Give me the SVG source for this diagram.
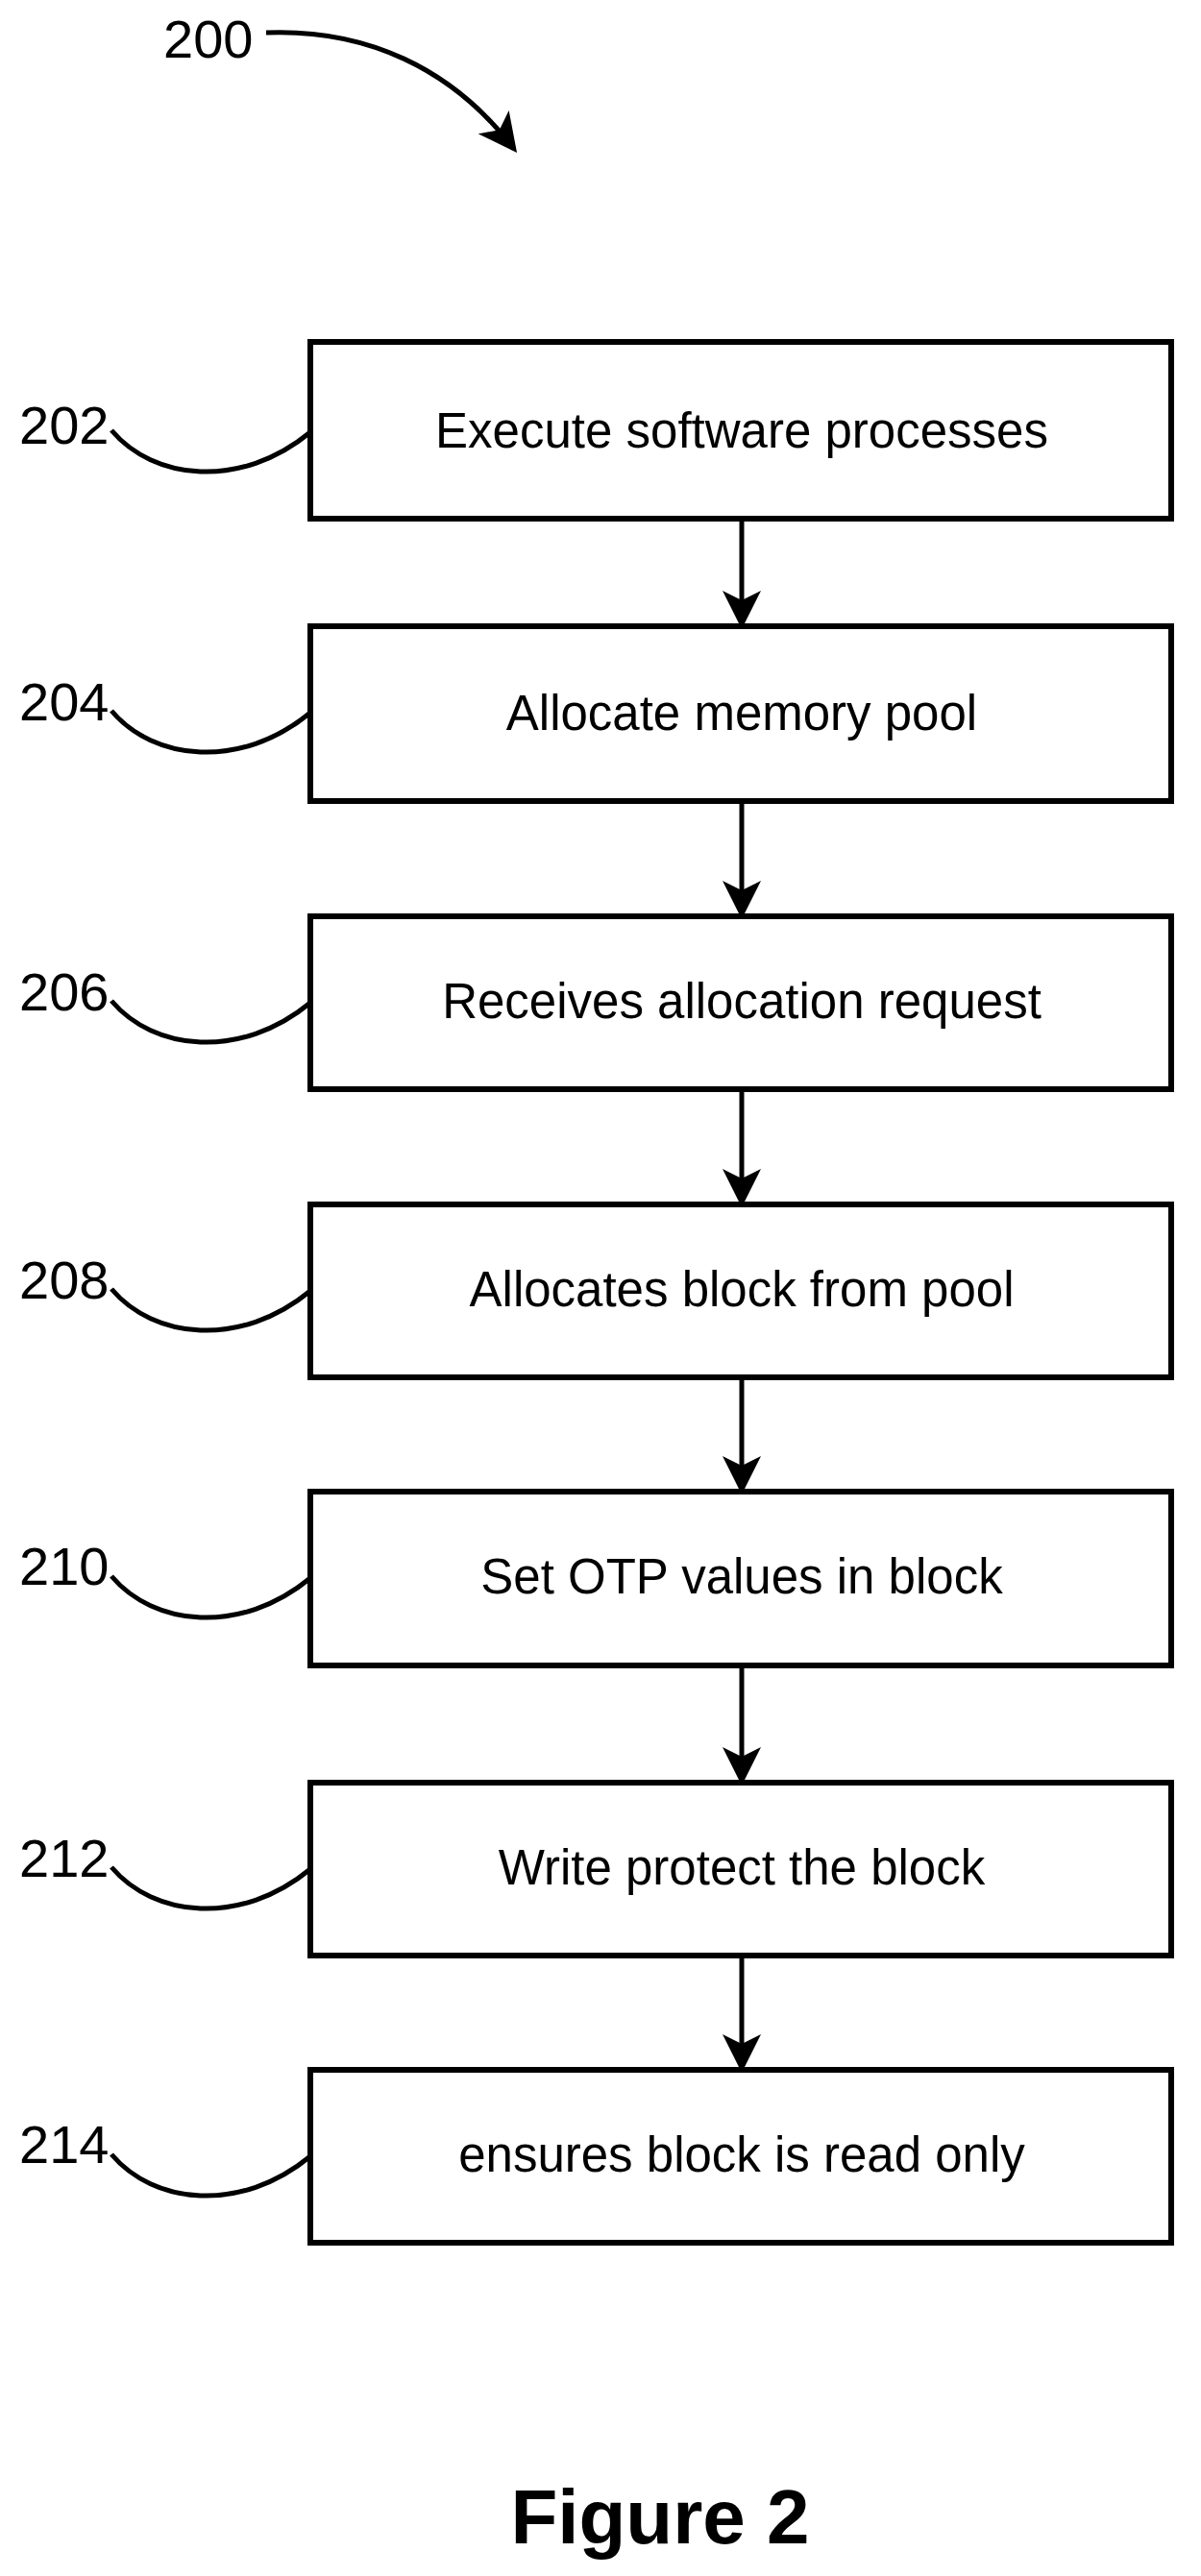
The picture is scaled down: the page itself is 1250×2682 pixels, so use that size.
<svg xmlns="http://www.w3.org/2000/svg" width="1250" height="2682" viewBox="0 0 1250 2682">
<style>
.box{fill:#fff;stroke:#000;stroke-width:6}
.t{font-family:"Liberation Sans",Arial,sans-serif;font-size:51px;text-anchor:middle;fill:#000}
.n{font-family:"Liberation Sans",Arial,sans-serif;font-size:56px;fill:#000}
.c{fill:none;stroke:#000;stroke-width:5}
.a{fill:none;stroke:#000;stroke-width:5;marker-end:url(#ah)}
</style>
<defs>
<marker id="ah" markerWidth="8" markerHeight="8" refX="7" refY="4" orient="auto" markerUnits="strokeWidth">
<path d="M0,0 L8,4 L0,8 L2,4 Z" fill="#000"/>
</marker>
</defs>
<rect width="1250" height="2682" fill="#fff"/>
<g id="label200"><text class="n" x="170" y="60">200</text><path class="a" d="M277,34 C380,30 470,70 535,155"/></g>
<g id="n202"><rect class="box" x="323" y="356" width="896" height="184"/><text class="t" x="772" y="466">Execute software processes</text><text class="n" x="20" y="462">202</text><path class="c" d="M116,448 C160,500 250,510 323,450"/></g>
<g id="n204"><rect class="box" x="323" y="652" width="896" height="182"/><text class="t" x="772" y="760">Allocate memory pool</text><text class="n" x="20" y="750">204</text><path class="c" d="M116,740 C160,792 250,802 323,742"/></g>
<g id="n206"><rect class="box" x="323" y="954" width="896" height="180"/><text class="t" x="772" y="1060">Receives allocation request</text><text class="n" x="20" y="1052">206</text><path class="c" d="M116,1042 C160,1094 250,1104 323,1044"/></g>
<g id="n208"><rect class="box" x="323" y="1254" width="896" height="180"/><text class="t" x="772" y="1360">Allocates block from pool</text><text class="n" x="20" y="1352">208</text><path class="c" d="M116,1342 C160,1394 250,1404 323,1344"/></g>
<g id="n210"><rect class="box" x="323" y="1553" width="896" height="181"/><text class="t" x="772" y="1659">Set OTP values in block</text><text class="n" x="20" y="1650">210</text><path class="c" d="M116,1641 C160,1693 250,1703 323,1643"/></g>
<g id="n212"><rect class="box" x="323" y="1856" width="896" height="180"/><text class="t" x="772" y="1962">Write protect the block</text><text class="n" x="20" y="1954">212</text><path class="c" d="M116,1944 C160,1996 250,2006 323,1946"/></g>
<g id="n214"><rect class="box" x="323" y="2155" width="896" height="180"/><text class="t" x="772" y="2261">ensures block is read only</text><text class="n" x="20" y="2252">214</text><path class="c" d="M116,2243 C160,2295 250,2305 323,2245"/></g>
<g id="connectors">
<path class="a" d="M772,540 V650"/>
<path class="a" d="M772,834 V952"/>
<path class="a" d="M772,1134 V1252"/>
<path class="a" d="M772,1434 V1551"/>
<path class="a" d="M772,1734 V1854"/>
<path class="a" d="M772,2036 V2153"/>
</g>
<text x="687" y="2648" style="font-family:'Liberation Sans',Arial,sans-serif;font-size:80px;font-weight:bold;text-anchor:middle">Figure 2</text>
</svg>
